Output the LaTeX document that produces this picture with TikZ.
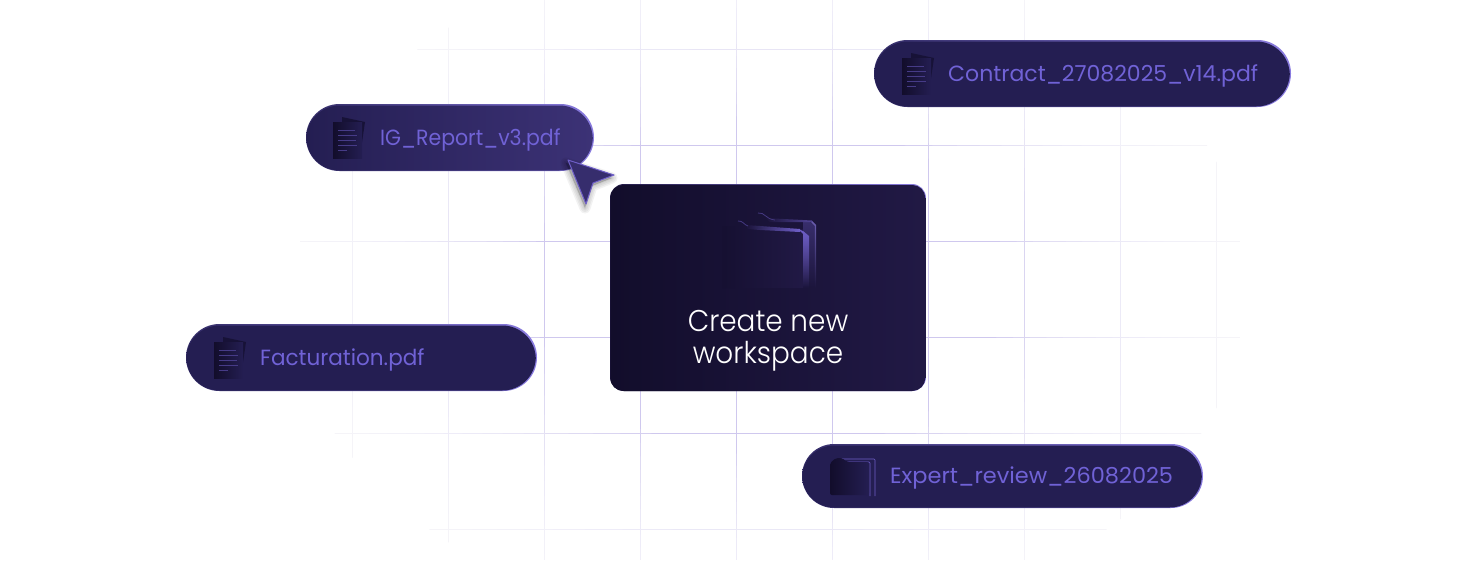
\documentclass[tikz,border=0pt]{standalone}
\usepackage{xcolor}
\usepackage{fontspec}
\setmainfont{Poppins}
\newfontfamily\cardfont{Poppins Light}
\usetikzlibrary{fadings}
\definecolor{gridline}{HTML}{CFC8EE}
\definecolor{pilldark}{HTML}{241E52}
\definecolor{pilllight}{HTML}{3C3276}
\definecolor{rimlight}{HTML}{8A7CE0}
\definecolor{carddark}{HTML}{120D2B}
\definecolor{cardlight}{HTML}{211945}
\definecolor{labeltext}{HTML}{7062D6}
\definecolor{foldline}{HTML}{6F5FC8}
\tikzset{
	pillrim/.style={rounded corners=#1,left color=pilldark!85!rimlight,right color=rimlight,draw=none},
	pillbody/.style={rounded corners=#1,draw=none},
	pilltext/.style={text=labeltext,font=\fontsize{22}{24}\selectfont,anchor=west,inner sep=0pt},
	docsheet/.style={left color=carddark,right color=pilldark,draw=none},
	docline/.style={draw=foldline!45!pilldark,line width=0.8pt},
	gridstroke/.style={gridline,line width=1pt},
	foldtab/.style={draw=foldline!45!cardlight,line width=0.8pt},
}
% x y w h name body colour
\newcommand{\pillbox}[6]{
	\path[pillrim=#4/2] (#1,#2) rectangle ++(#3,#4);
	\path[pillbody=#4/2,#6] (#1+0.3,#2+1.5) rectangle ++(#3-1.5,#4-2);
	\coordinate (#5) at (#1,#2+#4/2);
}
\newcommand{\docicon}[2]{
	\begin{scope}[shift={(#1,#2)}]
		\path[fill=carddark!70!pilldark] (-6,-21) -- (17,-16) -- (12,18) -- (-6,18) -- cycle;
		\path[docsheet] (-15,-16) rectangle (14,20);
		\foreach \y/\e in {-8/7,-3/9,2/8,7/9,12/-1}{
			\draw[docline] (-10,\y) -- (\e,\y);
		}
	\end{scope}
}
\begin{document}
\begin{tikzpicture}[x=1pt,y=-1pt]
	\useasboundingbox (0,0) rectangle (1460,560);
	\fill[white] (0,0) rectangle (1460,560);
	% grid
	\foreach \x in {352,448,...,1216}{
		\draw[gridstroke] (\x,0) -- (\x,560);
	}
	\foreach \y in {49,145,...,529}{
		\draw[gridstroke] (300,\y) -- (1240,\y);
	}
	\foreach \k in {0,...,15}{
		\fill[white,opacity=0.13,even odd rule] (280,-60) rectangle (1260,630) (768,285) ellipse ({240+\k*16} and {170+\k*12});
	}
	\fill[white,even odd rule] (280,-60) rectangle (1260,630) (768,285) ellipse (480 and 345);
	% pills
	\pillbox{306}{104}{288}{67}{report}{left color=pilldark,middle color=pilldark,right color=pilllight}
	\pillbox{874}{40}{417}{67}{contract}{fill=pilldark}
	\pillbox{186}{324}{351}{67}{factur}{fill=pilldark}
	\pillbox{802}{444}{401}{64}{expert}{fill=pilldark}
	\node[pilltext,xscale=0.93] (reportlabel) at (380,140) {IG\_Report\_v3.pdf};
	\node[pilltext] (contractlabel) at (948,76) {Contract\_27082025\_v14.pdf};
	\node[pilltext,xscale=0.98] (facturlabel) at (260,360) {Facturation.pdf};
	\node[pilltext,xscale=1.02] (expertlabel) at (890,478) {Expert\_review\_26082025};
	\docicon{348}{138}
	\docicon{917}{74}
	\docicon{229}{358}
	% small folder
	\begin{scope}[shift={(852,477)}]
		\draw[foldline,line width=0.7pt,rounded corners=1pt] (-10,-18) -- (23,-18) -- (23,19);
		\draw[foldline,line width=0.7pt,rounded corners=1pt] (-10,-15) -- (18,-15) -- (18,19);
		\path[left color=carddark,right color=pilldark,rounded corners=2pt] (-22,-14) -- (-16,-19) -- (-10,-19) -- (-5,-15) -- (17,-15) -- (17,18) -- (-22,18) -- cycle;
	\end{scope}
	% card
	\path[rounded corners=14pt,left color=cardlight,right color=rimlight] (610,184) rectangle (926,391);
	\node[rounded corners=13pt,left color=carddark,right color=cardlight,minimum width=315pt,minimum height=206pt,inner sep=0pt] (card) at (767.8,288) {};
	% big folder
	\path[left color=carddark!75!cardlight,right color=cardlight] (722,226) -- (746,226) -- (752,229) -- (803,229) -- (803,288) -- (722,288) -- cycle;
	\fill[cardlight!70!foldline,path fading=south] (803,222) -- (810,222) -- (815,226) -- (815,288) -- (803,288) -- cycle;
	\fill[foldline,path fading=south] (798,229) -- (803,231) -- (809,236) -- (809,288) -- (803,288) -- (803,234) -- (800,231) -- cycle;
	\fill[rimlight!70!cardlight,path fading=south] (812,221) -- (816,225) -- (816,288) -- (814.8,288) -- (814.8,226) -- (811,222) -- cycle;
	\fill[foldline,path fading=west] (745,225) -- (760,226) -- (800,229) -- (800,232) -- (760,230) -- (748,229) -- cycle;
	\fill[foldline!60!cardlight,path fading=west] (765,218) -- (812,220.5) -- (812,222) -- (770,222) -- cycle;
	\draw[foldtab] (738,221) .. controls (743,220.5) and (744,225) .. (748,226);
	\draw[foldtab] (758,213) .. controls (765,212) and (765,219) .. (775,220);
	\node[text=white,font=\fontsize{30}{32}\selectfont\cardfont,align=center,inner sep=0pt,xscale=0.93] (cardlabel) at (768,340.5) {Create new\\workspace};
	% cursor
	\foreach \r in {2,5,8,11}{
		\fill[black,opacity=0.05,line join=round,draw=black,line width=\r pt] (566,163) -- (612,178) -- (592,186) -- (585,208) -- cycle;
	}
	\draw[fill=pilllight!75!pilldark,draw=foldline,line width=1pt,line join=round] (568,160) -- (614,175) -- (593,183) -- (586,204) -- cycle;
\end{tikzpicture}
\end{document}
